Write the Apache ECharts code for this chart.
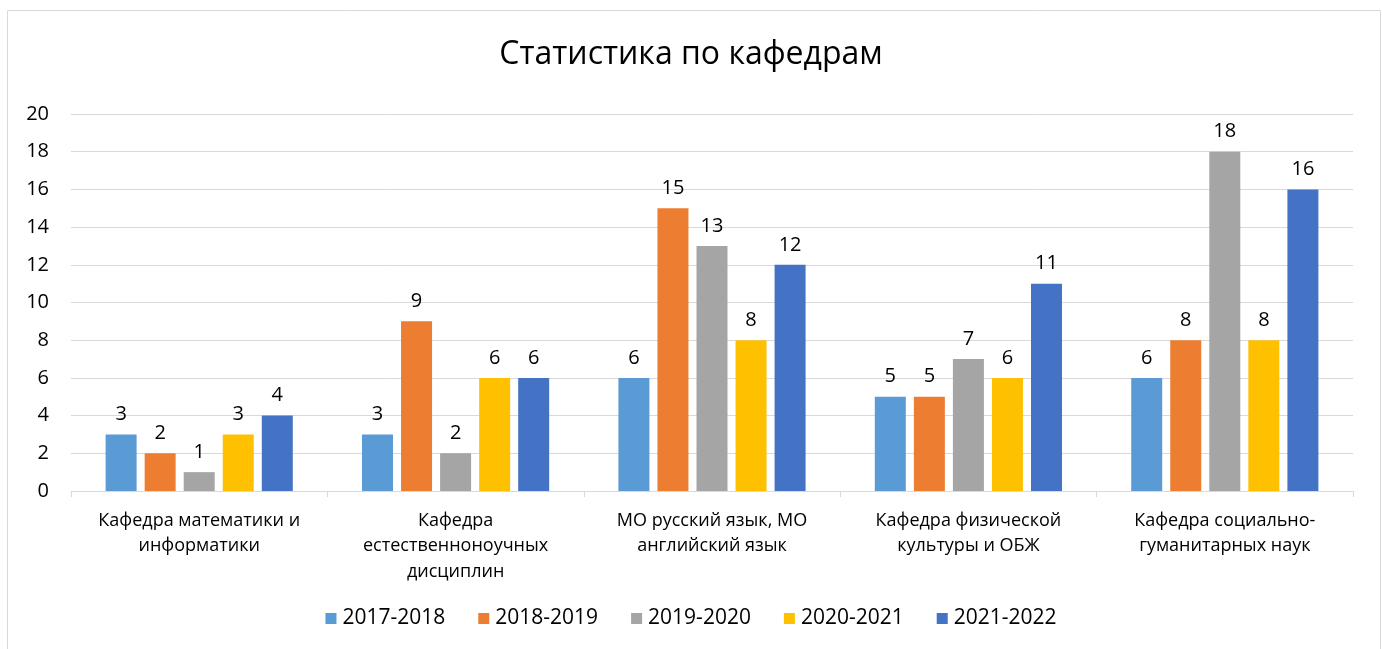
<!DOCTYPE html>
<html>
<head>
<meta charset="utf-8">
<script src="https://cdn.jsdelivr.net/npm/echarts@6/dist/echarts.min.js"></script>
<style>
html,body{margin:0;padding:0;background:#fff;}
#chart{width:1382px;height:649px;}
</style>
</head>
<body>
<div id="chart"></div>
<script>
const categories = [
  "Кафедра математики и\nинформатики",
  "Кафедра\nестественноноучных\nдисциплин",
  "МО русский язык, МО\nанглийский язык",
  "Кафедра физической\nкультуры и ОБЖ",
  "Кафедра социально-\nгуманитарных наук"
];
const seriesNames = ["2017-2018", "2018-2019", "2019-2020", "2020-2021", "2021-2022"];
const s2017 = [3, 3, 6, 5, 6];
const s2018 = [2, 9, 15, 5, 8];
const s2019 = [1, 2, 13, 7, 18];
const s2020 = [3, 6, 8, 6, 8];
const s2021 = [4, 6, 12, 11, 16];
const yTicks = [0, 2, 4, 6, 8, 10, 12, 14, 16, 18, 20];

const colors = ["#5B9BD5", "#ED7D31", "#A5A5A5", "#FFC000", "#4472C4"];
const values = [s2017, s2018, s2019, s2020, s2021];
const FONT = "'Open Sans', 'Noto Sans', sans-serif";

const chart = echarts.init(document.getElementById('chart'), null, {renderer: 'canvas'});
chart.setOption({
  animation: false,
  textStyle: {fontFamily: FONT},
  title: {
    text: "Статистика по кафедрам",
    left: 'center',
    top: 34,
    textStyle: {fontFamily: FONT, fontSize: 32, fontWeight: 'normal', color: '#000'}
  },
  graphic: [{
    type: 'rect',
    shape: {x: 7.5, y: 10.5, width: 1373, height: 660},
    style: {fill: 'none', stroke: '#d9d9d9', lineWidth: 1},
    silent: true
  }],
  legend: {
    data: seriesNames,
    top: 603,
    left: 'center',
    itemWidth: 11,
    itemHeight: 11,
    itemGap: 33,
    icon: 'rect',
    textStyle: {fontFamily: FONT, fontSize: 21, color: '#000', padding: [0, 0, 0, 1]}
  },
  grid: {left: 71, right: 29, top: 114, bottom: 158, containLabel: false},
  xAxis: {
    type: 'category',
    data: categories,
    axisLine: {lineStyle: {color: '#d9d9d9', width: 1}},
    axisTick: {show: true, length: 6, lineStyle: {color: '#d9d9d9'}, alignWithLabel: false},
    axisLabel: {fontFamily: FONT, fontSize: 18, color: '#000', lineHeight: 25.5, margin: 17, interval: 0}
  },
  yAxis: {
    type: 'value',
    min: 0, max: 20, interval: 2,
    axisLine: {show: false},
    axisTick: {show: false},
    splitLine: {lineStyle: {color: '#d9d9d9', width: 1}},
    axisLabel: {fontFamily: FONT, fontSize: 20, color: '#000', margin: 22,
      formatter: v => yTicks.includes(v) ? String(v) : ''}
  },
  series: seriesNames.map((name, i) => ({
    name: name,
    type: 'bar',
    data: values[i],
    barCategoryGap: '27%',
    barGap: '26%',
    itemStyle: {color: colors[i]},
    label: {show: true, position: 'top', distance: 10, fontFamily: FONT, fontSize: 20, color: '#000'}
  }))
});
</script>
</body>
</html>
